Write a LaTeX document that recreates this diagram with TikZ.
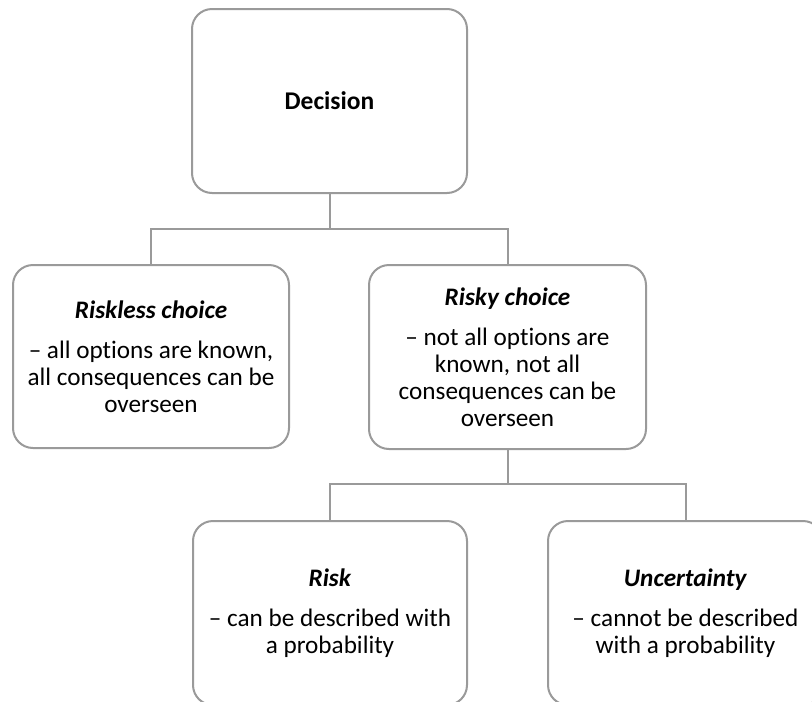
\documentclass[tikz,border=0pt]{standalone}
\usepackage{fontspec}
\setmainfont[Ligatures=NoCommon]{Carlito}
\begin{document}
\begin{tikzpicture}[x=1pt,y=-1pt,
  box/.style={draw=boxgray, line width=2pt, rounded corners=20pt, fill=white,
    minimum width=275pt, minimum height=184pt, align=center, inner sep=0pt,
    font=\fontsize{25.2}{27}\selectfont},
  conn/.style={draw=boxgray, line width=2pt}]
\definecolor{boxgray}{HTML}{9A9A9A}
\useasboundingbox (0,0) rectangle (812,702);
\clip (0,0) rectangle (812,702);
\node[box] (dec) at (329.5,101) {\fontsize{25.5}{27}\selectfont\textbf{Decision}};
\node[box, minimum width=276pt, minimum height=183pt] (riskless) at (151,356.5)
  {\textbf{\textit{Riskless choice}}\\[13pt]– all options are known,\\all consequences can be\\overseen};
\node[box, minimum width=277pt, minimum height=184pt] (risky) at (507.5,357)
  {\textbf{\textit{Risky choice}}\\[13pt]– not all options are\\known, not all\\consequences can be\\overseen};
\node[box, minimum width=274pt] (risk) at (330,613)
  {\textbf{\textit{Risk}}\\[13pt]– can be described with\\a probability};
\node[box] (unc) at (685.5,613)
  {\textbf{\textit{Uncertainty}}\\[13pt]– cannot be described\\with a probability};
\coordinate (j1) at (329.5,229);
\coordinate (j2) at (507.5,484);
\draw[conn] (dec.south) -- (j1);
\draw[conn] (riskless.north) |- (j1) -| (risky.north);
\draw[conn] (risky.south) -- (j2);
\draw[conn] (risk.north) |- (j2) -| (unc.north);
\end{tikzpicture}
\end{document}
